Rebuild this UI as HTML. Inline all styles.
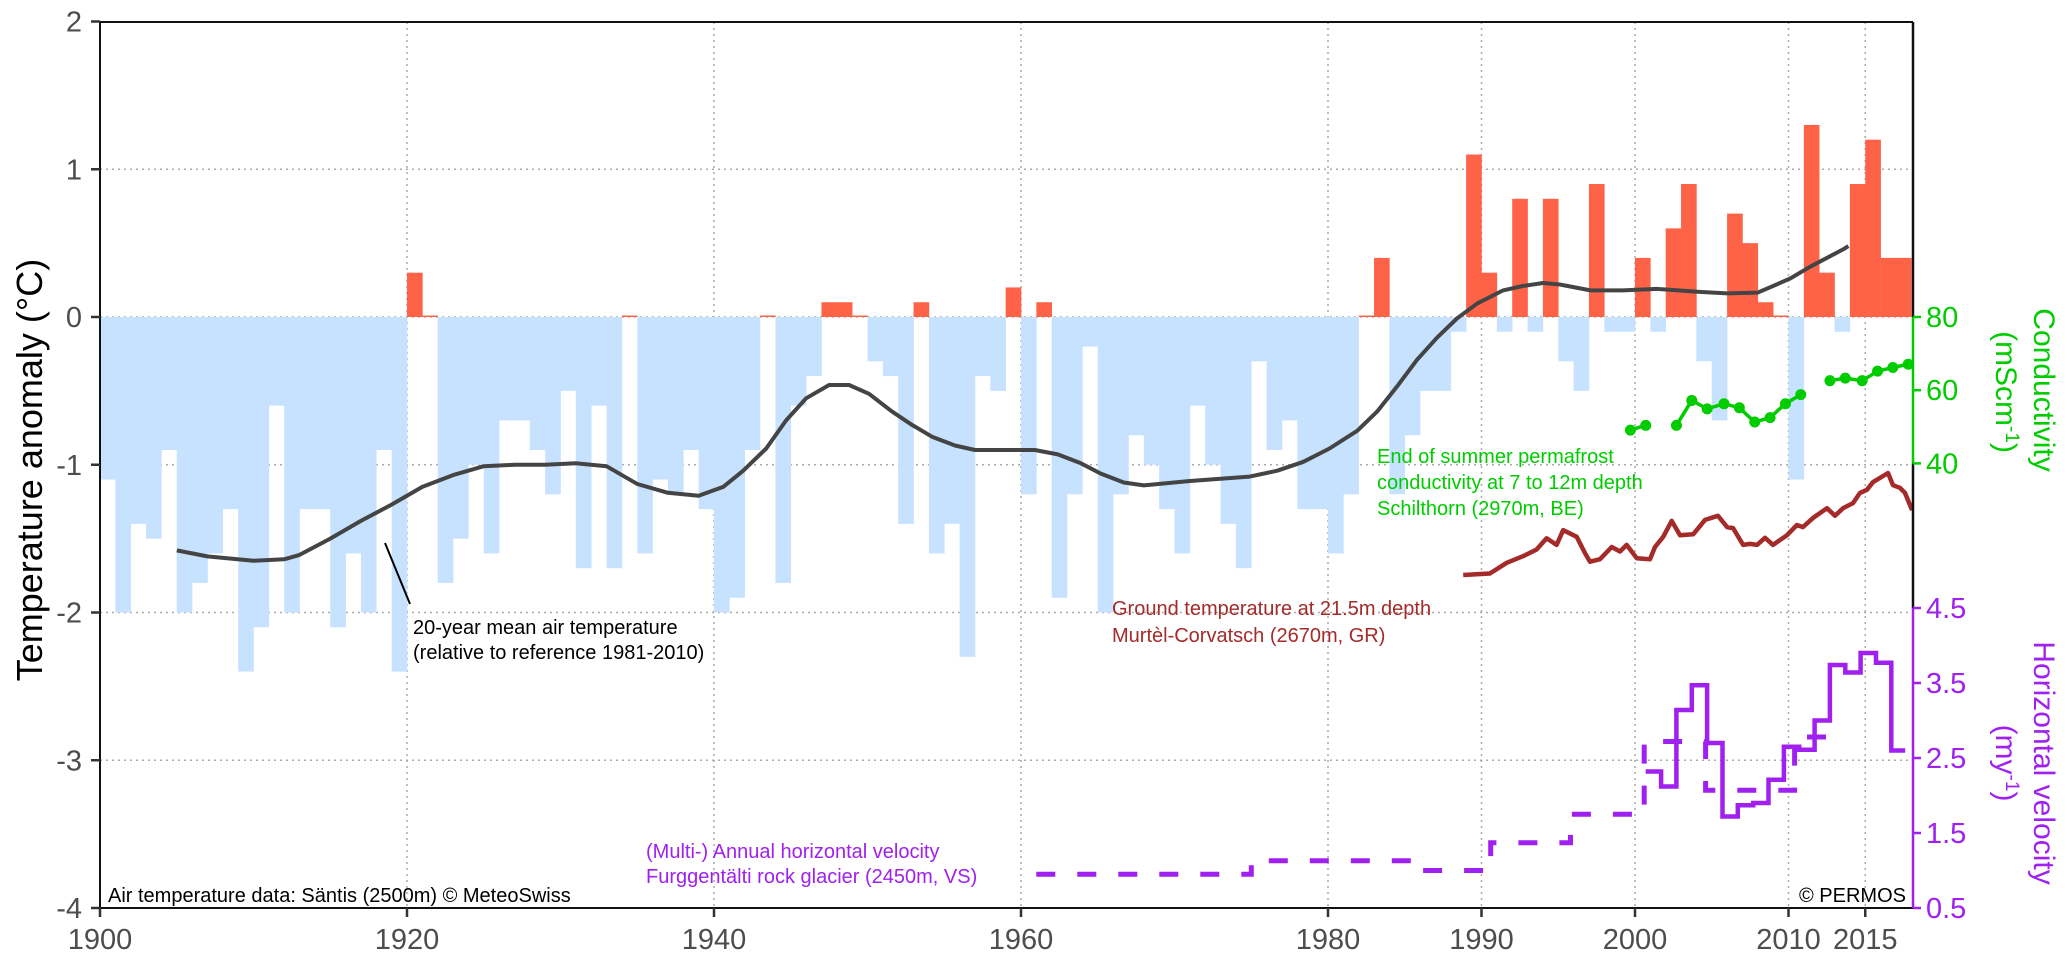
<!DOCTYPE html>
<html><head><meta charset="utf-8"><style>
html,body{margin:0;padding:0;background:#fff;}
svg{display:block;font-family:"Liberation Sans",Arial,sans-serif;}
</style></head><body>
<svg id="chart" width="2067" height="959" viewBox="0 0 2067 959" xmlns="http://www.w3.org/2000/svg">
<g id="grid"></g>
<g id="bars"></g>
<g id="series"></g>
<g id="axes"></g>
<text transform="translate(42,470) rotate(-90)" text-anchor="middle" font-size="36" fill="#000">Temperature anomaly (°C)</text>
<text transform="translate(2034,390) rotate(90)" text-anchor="middle" font-size="30" fill="#00cc00">Conductivity</text>
<text transform="translate(1996,392) rotate(90)" text-anchor="middle" font-size="30" fill="#00cc00">(mScm<tspan font-size="19" dy="-10">-1</tspan><tspan dy="10">)</tspan></text>
<text transform="translate(2034,763) rotate(90)" text-anchor="middle" font-size="30" fill="#a020f0">Horizontal velocity</text>
<text transform="translate(1996,763) rotate(90)" text-anchor="middle" font-size="30" fill="#a020f0">(my<tspan font-size="19" dy="-10">-1</tspan><tspan dy="10">)</tspan></text>
<g>
<line x1="385" y1="543" x2="410" y2="604" stroke="#000" stroke-width="2"/>
<text x="413" y="634" font-size="20" fill="#000">20-year mean air temperature</text>
<text x="413" y="659" font-size="20" fill="#000">(relative to reference 1981-2010)</text>
</g>
<g fill="#00cc00" font-size="20">
<text x="1377" y="463">End of summer permafrost</text>
<text x="1377" y="489">conductivity at 7 to 12m depth</text>
<text x="1377" y="515">Schilthorn (2970m, BE)</text>
</g>
<g fill="#a52a2a" font-size="20">
<text x="1112" y="615">Ground temperature at 21.5m depth</text>
<text x="1112" y="642">Murtèl-Corvatsch (2670m, GR)</text>
</g>
<g fill="#a020f0" font-size="20">
<text x="646" y="858">(Multi-) Annual horizontal velocity</text>
<text x="646" y="883">Furggentälti rock glacier (2450m, VS)</text>
</g>
<text x="108" y="902" font-size="20" fill="#000">Air temperature data: Säntis (2500m) © MeteoSwiss</text>
<text x="1906" y="902" text-anchor="end" font-size="20" fill="#000">© PERMOS</text>
</svg>
<script>
// ---- data ----
const years = [];
for (let y = 1900; y <= 2017; y++) years.push(y);
const anomalies = [
-1.1,-2.0,-1.4,-1.5,-0.9,-2.0,-1.8,-1.6,-1.3,-2.4,
-2.1,-0.6,-2.0,-1.3,-1.3,-2.1,-1.6,-2.0,-0.9,-2.4,
0.3,0.01,-1.8,-1.5,-1.0,-1.6,-0.7,-0.7,-0.9,-1.2,
-0.5,-1.7,-0.6,-1.7,0.01,-1.6,-1.1,-1.2,-0.9,-1.3,
-2.0,-1.9,-0.9,0.01,-1.8,-0.6,-0.4,0.1,0.1,0.01,
-0.3,-0.4,-1.4,0.1,-1.6,-1.4,-2.3,-0.4,-0.5,0.2,
-1.2,0.1,-1.9,-1.2,-0.2,-2.0,-1.2,-0.8,-1.0,-1.3,
-1.6,-0.6,-1.0,-1.4,-1.7,-0.3,-0.9,-0.7,-1.3,-1.3,
-1.6,-1.2,0.01,0.4,-1.2,-0.8,-0.5,-0.5,-0.1,1.1,
0.3,-0.1,0.8,-0.1,0.8,-0.3,-0.5,0.9,-0.1,-0.1,
0.4,-0.1,0.6,0.9,-0.3,-0.7,0.7,0.5,0.1,0.01,
-1.1,1.3,0.3,-0.1,0.9,1.2,0.4,0.4];
const meanYears = [1905,1907,1910,1912,1913,1915,1917,1919,1921,1923,1925,1927,1929,1931,1933,1935,1937,1939,1940.6,1941.9,1943.4,1944.7,1946,1947.5,1948.8,1950.1,1951.6,1952.9,1954.2,1955.7,1957,1960.9,1962.4,1963.9,1965.2,1966.7,1968,1971,1974.9,1976.7,1978.4,1980.1,1981.9,1983.2,1984.5,1985.8,1987.1,1988.4,1989.7,1991.4,1992.7,1994,1995.1,1997.1,1999.2,2001.4,2004.2,2006,2008,2010.1,2011.4,2013.6,2013.9];
const meanValues = [-1.58,-1.62,-1.65,-1.64,-1.61,-1.50,-1.38,-1.27,-1.15,-1.07,-1.01,-1.0,-1.0,-0.99,-1.01,-1.13,-1.19,-1.21,-1.15,-1.04,-0.89,-0.70,-0.55,-0.46,-0.46,-0.52,-0.64,-0.73,-0.81,-0.87,-0.90,-0.90,-0.93,-0.99,-1.06,-1.12,-1.14,-1.11,-1.08,-1.04,-0.98,-0.89,-0.77,-0.64,-0.47,-0.29,-0.14,-0.01,0.09,0.18,0.21,0.23,0.22,0.18,0.18,0.19,0.17,0.16,0.165,0.26,0.34,0.46,0.48];
const condYears = [1999.7,2000.7,2002.7,2003.7,2004.7,2005.8,2006.8,2007.8,2008.8,2009.8,2010.8,2012.7,2013.7,2014.8,2015.8,2016.8,2017.8];
const condValues = [49.1,50.4,50.4,57.2,54.9,56.3,55.2,51.3,52.5,56.3,58.8,62.6,63.3,62.6,65.2,66.2,67.1];
const gtYears = [1988.81,1990.55,1991.64,1992.72,1993.59,1994.24,1994.89,1995.32,1996.2,1996.74,1997.07,1997.72,1998.48,1999.02,1999.46,2000.11,2000.98,2001.3,2001.84,2002.39,2002.93,2003.8,2004.56,2005.41,2006.0,2006.39,2007.04,2007.49,2007.95,2008.47,2008.99,2009.9,2010.55,2010.94,2011.6,2012.51,2013.03,2013.55,2014.2,2014.66,2015.11,2015.5,2016.48,2016.81,2017.26,2017.59,2018.05];
const gtValues = [-0.300,-0.297,-0.276,-0.263,-0.250,-0.228,-0.241,-0.212,-0.225,-0.257,-0.274,-0.269,-0.245,-0.254,-0.241,-0.267,-0.269,-0.245,-0.225,-0.194,-0.222,-0.220,-0.192,-0.184,-0.206,-0.208,-0.241,-0.239,-0.241,-0.227,-0.241,-0.222,-0.202,-0.206,-0.188,-0.169,-0.184,-0.169,-0.159,-0.139,-0.133,-0.118,-0.100,-0.124,-0.129,-0.139,-0.173];
const multiStart = [1961,1975,1986,1990.6,1995.8,2000.6,2004.6,2010.4];
const multiEnd = [1975,1986,1990.6,1995.8,2000.6,2004.6,2010.4,2013];
const multiValues = [0.95,1.13,1.0,1.37,1.75,2.72,2.07,2.78];
const annualStart = [2000.7,2001.7,2002.7,2003.7,2004.7,2005.7,2006.7,2007.7,2008.7,2009.7,2010.7,2011.7,2012.7,2013.7,2014.7,2015.7,2016.7];
const annualEnd = 2017.6;
const annualValues = [2.32,2.12,3.14,3.47,2.70,1.72,1.87,1.90,2.21,2.65,2.61,3.00,3.74,3.64,3.90,3.77,2.60];
const xTicks = [1900,1920,1940,1960,1980,1990,2000,2010,2015];
const yTicks = [2,1,0,-1,-2,-3,-4];
const condTicks = [80,60,40];
const velTicks = [4.5,3.5,2.5,1.5,0.5];

// ---- scales ----
const X0 = 100, X1 = 1913, TOP = 22, BOT = 908;
const x = yr => X0 + (yr - 1900) * 15.35;
const yT = v => 317 - v * 147.75;
const yC = c => 317 + (80 - c) * 3.66;
const yV = v => 908 - (v - 0.5) * 75;
const yG = v => 575 - (v + 0.3) * 510;
const NS = "http://www.w3.org/2000/svg";
function mk(tag, attrs, parent) { const e = document.createElementNS(NS, tag); for (const k in attrs) e.setAttribute(k, attrs[k]); parent.appendChild(e); return e; }
const grid = document.getElementById('grid'), bars = document.getElementById('bars'), series = document.getElementById('series'), axes = document.getElementById('axes');

// grid
xTicks.slice(1).forEach(t => {
  const l = mk('line', {x1: x(t), x2: x(t), y1: TOP, y2: BOT, stroke: '#aaa', 'stroke-width': 1.5, 'stroke-dasharray': '2 4'}, grid);
  
  
});
[1,0,-1,-2,-3].forEach(t => {
  const l = mk('line', {x1: X0, x2: X1, y1: yT(t), y2: yT(t), stroke: '#aaa', 'stroke-width': 1.5, 'stroke-dasharray': '2 4'}, grid);
  
  
});

// bars
years.forEach((yr, i) => {
  const v = anomalies[i];
  const y0 = yT(0), y1 = yT(v);
  const r = mk('rect', {x: x(yr), width: x(yr + 1) - x(yr) + 0.3, y: Math.min(y0, y1), height: Math.max(Math.abs(y1 - y0), 1), fill: v > 0 ? '#ff6347' : '#c6e2ff'}, bars);
  
  
});

// 20-year mean
const mp = mk('path', {d: meanValues.map((v, i) => (i ? 'L' : 'M') + x(meanYears[i]).toFixed(1) + ',' + yT(v).toFixed(1)).join(''), fill: 'none', stroke: '#444', 'stroke-width': 4, 'stroke-linejoin': 'round'}, series);



// ground temperature
const gp = mk('path', {d: gtValues.map((v, i) => (i ? 'L' : 'M') + x(gtYears[i]).toFixed(1) + ',' + yG(v).toFixed(1)).join(''), fill: 'none', stroke: '#a52a2a', 'stroke-width': 4.5, 'stroke-linejoin': 'round'}, series);



// conductivity
let cd = '';
condValues.forEach((v, i) => {
  const brk = i === 0 || condYears[i] - condYears[i - 1] > 1.5;
  cd += (brk ? 'M' : 'L') + x(condYears[i]).toFixed(1) + ',' + yC(v).toFixed(1);
});
const cp = mk('path', {d: cd, fill: 'none', stroke: '#00cc00', 'stroke-width': 3.5}, series);


condValues.forEach((v, i) => {
  const c = mk('circle', {cx: x(condYears[i]), cy: yC(v), r: 5.5, fill: '#00cc00'}, series);
  
  
});

// multi-annual velocity (dashed steps)
let md = '';
multiValues.forEach((v, i) => {
  md += (i ? 'L' : 'M') + x(multiStart[i]).toFixed(1) + ',' + yV(v).toFixed(1) + 'L' + x(multiEnd[i]).toFixed(1) + ',' + yV(v).toFixed(1);
});
const mv = mk('path', {d: md, fill: 'none', stroke: '#a020f0', 'stroke-width': 5, 'stroke-dasharray': '19 22'}, series);



// annual velocity (solid steps)
let ad = '';
annualValues.forEach((v, i) => {
  const e = i < annualValues.length - 1 ? annualStart[i + 1] : annualEnd;
  ad += (i ? 'L' : 'M') + x(annualStart[i]).toFixed(1) + ',' + yV(v).toFixed(1) + 'L' + x(e).toFixed(1) + ',' + yV(v).toFixed(1);
});
const av = mk('path', {d: ad, fill: 'none', stroke: '#a020f0', 'stroke-width': 4.5}, series);



// axes
const frame = mk('path', {d: `M${X0},${TOP}L${X1},${TOP}M${X0},${TOP}L${X0},${BOT}L${X1},${BOT}`, fill: 'none', stroke: '#111', 'stroke-width': 2}, axes);


[[TOP, yC(80), '#111'], [yC(80), yC(40), '#00cc00'], [yC(40), yV(4.5), '#111'], [yV(4.5), BOT, '#a020f0']].forEach(s => {
  const l = mk('line', {x1: X1, x2: X1, y1: s[0], y2: s[1], stroke: s[2], 'stroke-width': 2.5}, axes);
  
  
});
yTicks.forEach(t => {
  const l = mk('line', {x1: 91, x2: X0, y1: yT(t), y2: yT(t), stroke: '#333', 'stroke-width': 2.5}, axes);
  
  
  const tx = mk('text', {x: 82, y: yT(t) + 10, 'text-anchor': 'end', 'font-size': 29, fill: '#4d4d4d'}, axes);
  tx.textContent = t;
  
  
});
xTicks.forEach(t => {
  const l = mk('line', {x1: x(t), x2: x(t), y1: BOT, y2: BOT + 9, stroke: '#333', 'stroke-width': 2.5}, axes);
  
  
  const tx = mk('text', {x: x(t), y: 949, 'text-anchor': 'middle', 'font-size': 29, fill: '#4d4d4d'}, axes);
  tx.textContent = t;
  
  
});
condTicks.forEach(t => {
  const l = mk('line', {x1: X1, x2: X1 + 8, y1: yC(t), y2: yC(t), stroke: '#00cc00', 'stroke-width': 2.5}, axes);
  
  
  const tx = mk('text', {x: 1926, y: yC(t) + 10, 'font-size': 29, fill: '#00cc00'}, axes);
  tx.textContent = t;
  
  
});
velTicks.forEach(t => {
  const l = mk('line', {x1: X1, x2: X1 + 8, y1: yV(t), y2: yV(t), stroke: '#a020f0', 'stroke-width': 2.5}, axes);
  
  
  const tx = mk('text', {x: 1926, y: yV(t) + 10, 'font-size': 29, fill: '#a020f0'}, axes);
  tx.textContent = t.toFixed(1);
  
  
});
</script>
</body></html>
